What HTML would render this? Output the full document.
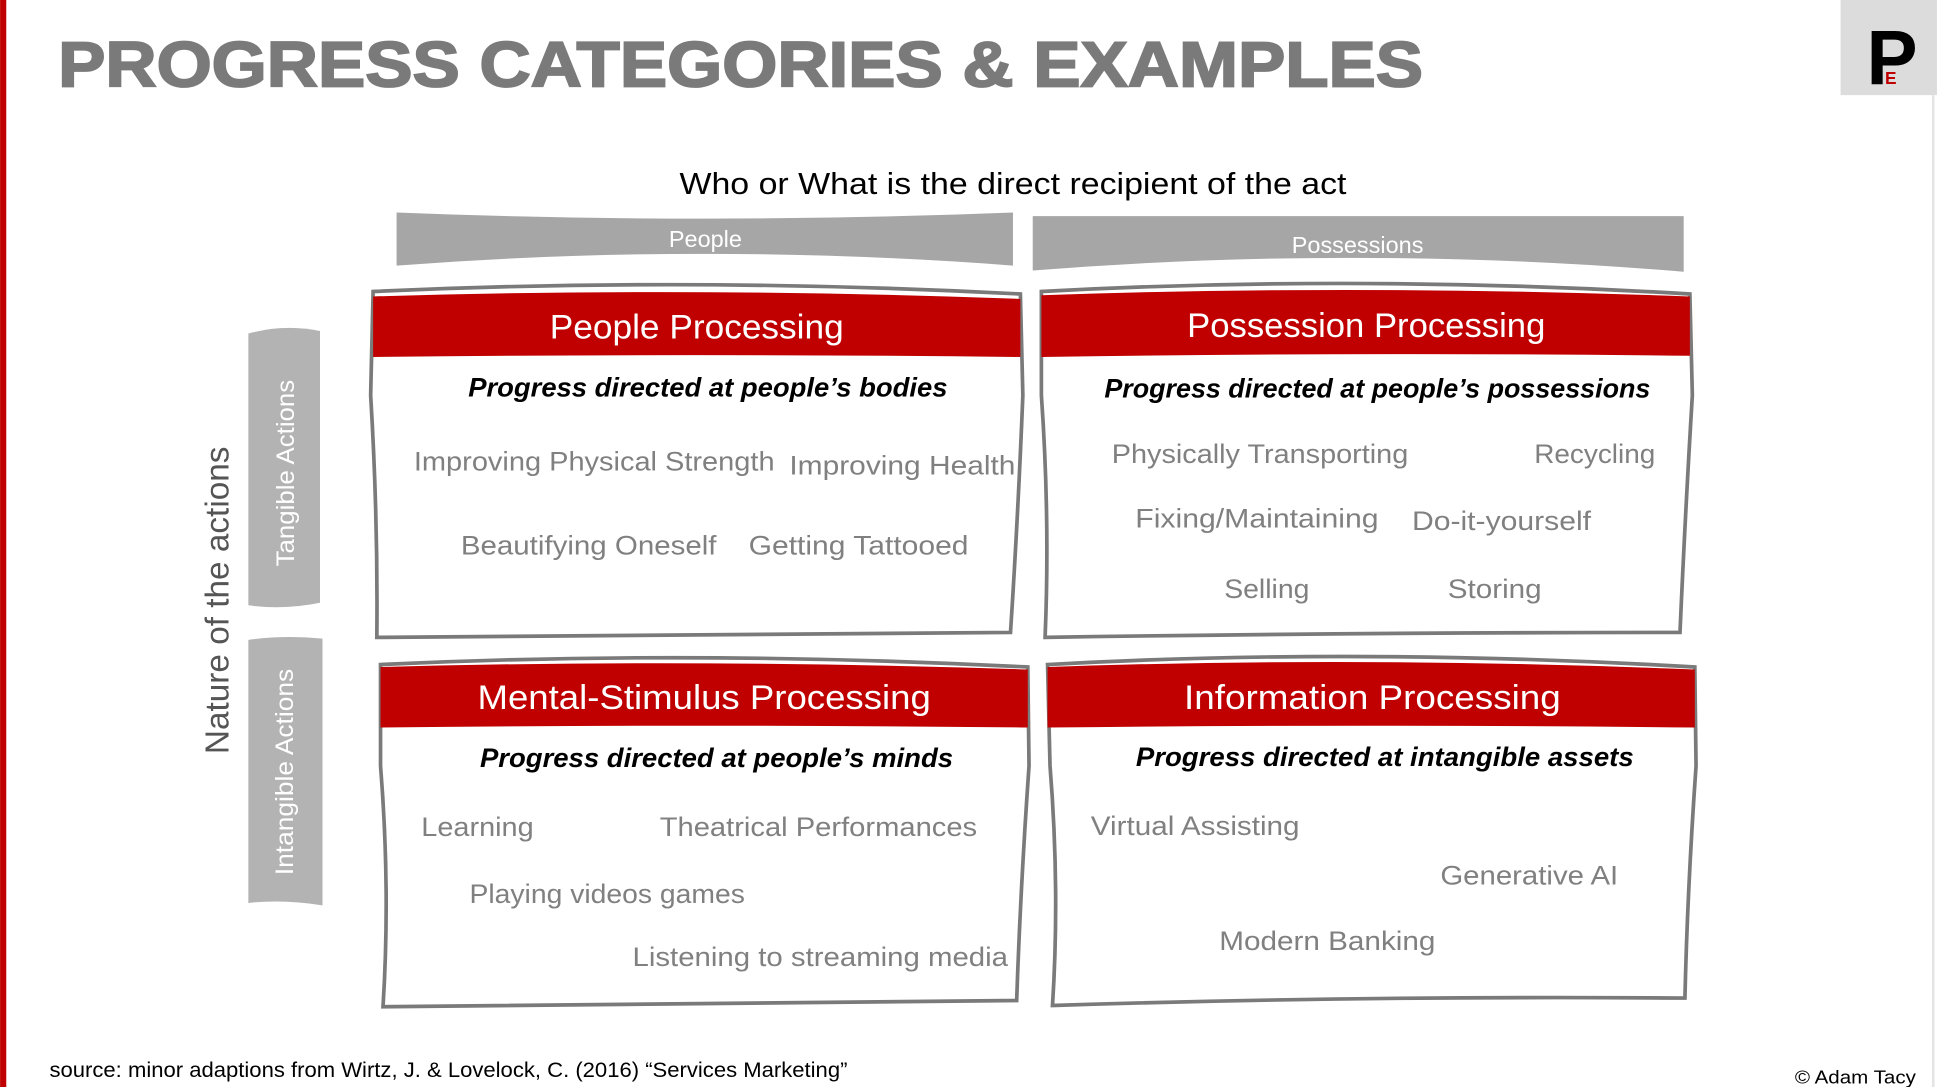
<!DOCTYPE html>
<html><head><meta charset="utf-8"><style>
html,body{margin:0;padding:0;background:#fff;width:1937px;height:1087px;overflow:hidden}
svg{display:block}
text{font-family:"Liberation Sans",sans-serif}
</style></head><body>
<svg width="1937" height="1087" viewBox="0 0 1568 880" xmlns="http://www.w3.org/2000/svg">
<rect x="0" y="0" width="1568" height="880" fill="#fff"/>
<rect x="0" y="0" width="5" height="880" fill="#c00000"/>
<!-- title -->
<text x="47" y="70" font-size="52" font-weight="bold" fill="#7a7a7a" textLength="1105" lengthAdjust="spacingAndGlyphs" stroke="#7a7a7a" stroke-width="1.5">PROGRESS CATEGORIES &amp; EXAMPLES</text>
<!-- logo -->
<rect x="1490" y="0" width="78" height="77" fill="#dcdcdc"/>
<text x="1511" y="68" font-size="62" font-weight="bold" fill="#000">P</text>
<text x="1526" y="68" font-size="14" font-weight="bold" fill="#c00000">E</text>
<rect x="1564" y="77" width="2" height="803" fill="#e4e4e4"/>
<!-- axis heading -->
<text x="820" y="157" font-size="25" fill="#000" text-anchor="middle" textLength="540" lengthAdjust="spacingAndGlyphs">Who or What is the direct recipient of the act</text>
<!-- banners -->
<path d="M321 172 Q570 182 820 172 L820 215 Q570 196 321 215 Z" fill="#a6a6a6"/>
<text x="571" y="200" font-size="19" fill="#fff" text-anchor="middle">People</text>
<path d="M836 175 L1363 175 L1363 220 Q1100 198 836 219 Z" fill="#a6a6a6"/>
<text x="1099" y="205" font-size="19" fill="#fff" text-anchor="middle">Possessions</text>
<!-- side tabs -->
<path d="M201 270 Q230 262 259 268 L259 488 Q230 494 201 490 Z" fill="#b3b3b3"/>
<text transform="translate(238,383) rotate(-90)" font-size="20" fill="#fff" text-anchor="middle" textLength="151" lengthAdjust="spacingAndGlyphs">Tangible Actions</text>
<path d="M201 518 Q230 514 261 517 L261 733 Q230 728 201 731 Z" fill="#b3b3b3"/>
<text transform="translate(237,625) rotate(-90)" font-size="20" fill="#fff" text-anchor="middle" textLength="167" lengthAdjust="spacingAndGlyphs">Intangible Actions</text>
<text transform="translate(185,486) rotate(-90)" font-size="27" fill="#555" text-anchor="middle" textLength="249" lengthAdjust="spacingAndGlyphs">Nature of the actions</text>

<g fill="none" stroke="#7a7a7a" stroke-width="3">
<path d="M302 236 Q560 224 826 238 L828 320 Q824 420 818 512 Q560 514 305 516 Q306 420 300 320 Z" fill="#fff"/>
<path d="M843 236 Q1100 222 1368 238 L1370 320 Q1364 420 1360 512 Q1100 512 846 516 Q850 420 843 320 Z" fill="#fff"/>
<path d="M308 538 Q560 526 832 540 L833 620 Q826 720 823 810 Q560 812 310 815 Q316 720 308 620 Z" fill="#fff"/>
<path d="M848 538 Q1100 524 1372 540 L1373 620 Q1366 720 1364 808 Q1100 806 852 814 Q858 720 850 620 Z" fill="#fff"/>
</g>
<g fill="#c00000">
<path d="M302 240 Q560 232 826 242 L826 289 Q560 286 302 289 Z"/>
<path d="M843 239 Q1100 230 1368 240 L1368 288 Q1100 285 843 289 Z"/>
<path d="M308 540 Q560 533 832 542 L832 589 Q560 586 308 589 Z"/>
<path d="M848 540 Q1100 531 1372 542 L1372 589 Q1100 586 848 589 Z"/>
</g>
<g font-size="28" fill="#fff" text-anchor="middle">
<text x="564" y="274" textLength="238" lengthAdjust="spacingAndGlyphs">People Processing</text>
<text x="1106" y="273" textLength="290" lengthAdjust="spacingAndGlyphs">Possession Processing</text>
<text x="570" y="574" textLength="367" lengthAdjust="spacingAndGlyphs">Mental-Stimulus Processing</text>
<text x="1111" y="574" textLength="305" lengthAdjust="spacingAndGlyphs">Information Processing</text>
</g>
<g font-size="22" font-weight="bold" font-style="italic" fill="#000" text-anchor="middle">
<text x="573" y="321" textLength="388" lengthAdjust="spacingAndGlyphs">Progress directed at people’s bodies</text>
<text x="1115" y="322" textLength="442" lengthAdjust="spacingAndGlyphs">Progress directed at people’s possessions</text>
<text x="580" y="621" textLength="383" lengthAdjust="spacingAndGlyphs">Progress directed at people’s minds</text>
<text x="1121" y="620" textLength="403" lengthAdjust="spacingAndGlyphs">Progress directed at intangible assets</text>
</g>
<g font-size="22" fill="#808080" lengthAdjust="spacingAndGlyphs">
<text x="335" y="381" textLength="292" lengthAdjust="spacingAndGlyphs">Improving Physical Strength</text>
<text x="639" y="384" textLength="183" lengthAdjust="spacingAndGlyphs">Improving Health</text>
<text x="373" y="449" textLength="207" lengthAdjust="spacingAndGlyphs">Beautifying Oneself</text>
<text x="606" y="449" textLength="178" lengthAdjust="spacingAndGlyphs">Getting Tattooed</text>
<text x="900" y="375" textLength="240" lengthAdjust="spacingAndGlyphs">Physically Transporting</text>
<text x="1242" y="375" textLength="98" lengthAdjust="spacingAndGlyphs">Recycling</text>
<text x="919" y="427" textLength="197" lengthAdjust="spacingAndGlyphs">Fixing/Maintaining</text>
<text x="1143" y="429" textLength="145" lengthAdjust="spacingAndGlyphs">Do-it-yourself</text>
<text x="991" y="484" textLength="69" lengthAdjust="spacingAndGlyphs">Selling</text>
<text x="1172" y="484" textLength="76" lengthAdjust="spacingAndGlyphs">Storing</text>
<text x="341" y="677" textLength="91" lengthAdjust="spacingAndGlyphs">Learning</text>
<text x="534" y="677" textLength="257" lengthAdjust="spacingAndGlyphs">Theatrical Performances</text>
<text x="380" y="731" textLength="223" lengthAdjust="spacingAndGlyphs">Playing videos games</text>
<text x="512" y="782" textLength="304" lengthAdjust="spacingAndGlyphs">Listening to streaming media</text>
<text x="883" y="676" textLength="169" lengthAdjust="spacingAndGlyphs">Virtual Assisting</text>
<text x="1166" y="716" textLength="144" lengthAdjust="spacingAndGlyphs">Generative AI</text>
<text x="987" y="769" textLength="175" lengthAdjust="spacingAndGlyphs">Modern Banking</text>
</g>
<text x="40" y="872" font-size="17" fill="#000" textLength="646" lengthAdjust="spacingAndGlyphs">source: minor adaptions from Wirtz, J. &amp; Lovelock, C. (2016) “Services Marketing”</text>
<text x="1453" y="877" font-size="15" fill="#000" textLength="98" lengthAdjust="spacingAndGlyphs">© Adam Tacy</text>
</svg>
</body></html>
